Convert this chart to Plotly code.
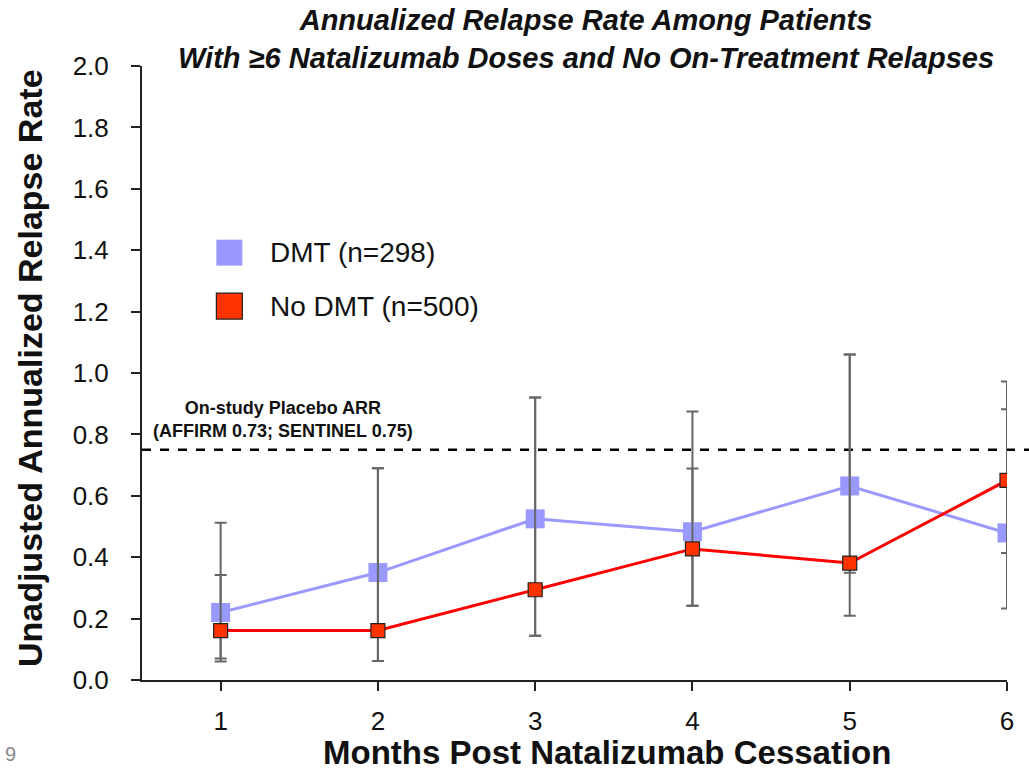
import plotly.graph_objects as go

months = [1, 2, 3, 4, 5, 6]
dmt_arr = [0.22, 0.35, 0.525, 0.483, 0.632, 0.479]
dmt_lo = [0.06, 0.062, 0.144, 0.242, 0.209, 0.233]
dmt_hi = [0.512, 0.69, 0.92, 0.875, 1.06, 0.882]
nodmt_arr = [0.161, 0.161, 0.294, 0.427, 0.381, 0.650]
nodmt_lo = [0.07, 0.062, 0.144, 0.242, 0.349, 0.414]
nodmt_hi = [0.342, 0.69, 0.92, 0.689, 1.06, 0.972]
placebo_arr = 0.75
y_ticks = [0.0, 0.2, 0.4, 0.6, 0.8, 1.0, 1.2, 1.4, 1.6, 1.8, 2.0]

DMT_COLOR = "#9999FF"
NODMT_LINE = "#FF0000"
NODMT_FILL = "#FF3300"
ERR_COLOR = "#666666"
FONT = "Liberation Sans, Arial"

fig = go.Figure()

fig.add_trace(go.Scatter(
    x=months, y=dmt_arr, mode="lines+markers", name="DMT (n=298)",
    line=dict(color=DMT_COLOR, width=3),
    marker=dict(symbol="square", size=19, color=DMT_COLOR),
    error_y=dict(type="data", symmetric=False,
                 array=[h - v for h, v in zip(dmt_hi, dmt_arr)],
                 arrayminus=[v - l for v, l in zip(dmt_arr, dmt_lo)],
                 color=ERR_COLOR, thickness=2, width=6),
    showlegend=False,
))
fig.add_trace(go.Scatter(
    x=months, y=nodmt_arr, mode="lines+markers", name="No DMT (n=500)",
    line=dict(color=NODMT_LINE, width=3),
    marker=dict(symbol="square", size=14, color=NODMT_FILL,
                line=dict(color="#222222", width=1.2)),
    error_y=dict(type="data", symmetric=False,
                 array=[h - v for h, v in zip(nodmt_hi, nodmt_arr)],
                 arrayminus=[v - l for v, l in zip(nodmt_arr, nodmt_lo)],
                 color=ERR_COLOR, thickness=2, width=6),
    showlegend=False,
))

# placebo reference line
fig.add_shape(type="line", xref="paper", yref="y", x0=0, x1=1.03,
              y0=placebo_arr, y1=placebo_arr,
              line=dict(color="black", width=2.5, dash="dash"), layer="below")

fig.add_annotation(
    x=0.163, xref="paper", y=placebo_arr, yref="y", yshift=7,
    text="<b>On-study Placebo ARR</b><br><b>(AFFIRM 0.73; SENTINEL 0.75)</b>",
    showarrow=False, xanchor="center", yanchor="bottom",
    font=dict(family=FONT, size=18, color="#111111"),
    align="center",
)

# manual legend
legend_items = [("DMT (n=298)", DMT_COLOR, None), ("No DMT (n=500)", NODMT_FILL, "#222222")]
leg_x = 0.101
leg_y0 = 0.696
leg_dy = 0.087
for i, (label, fill, border) in enumerate(legend_items):
    yy = leg_y0 - i * leg_dy
    fig.add_shape(type="rect", xref="paper", yref="paper",
                  xsizemode="pixel", ysizemode="pixel",
                  xanchor=leg_x, yanchor=yy, x0=-13, x1=13, y0=-13, y1=13,
                  fillcolor=fill,
                  line=dict(color=border if border else fill, width=1.2 if border else 0))
    fig.add_annotation(x=leg_x, xref="paper", xshift=39, y=yy, yref="paper",
                       text=label, showarrow=False, xanchor="left", yanchor="middle",
                       font=dict(family=FONT, size=28, color="#111111"))

# chart title
fig.add_annotation(
    x=0.513, xref="paper", y=1, yref="paper", yshift=-10,
    text="<b><i>Annualized Relapse Rate Among Patients<br>With \u22656 Natalizumab Doses and No On-Treatment Relapses</i></b>",
    showarrow=False, xanchor="center", yanchor="bottom", align="center",
    font=dict(family=FONT, size=29, color="#111111"),
)

# axis titles
fig.add_annotation(
    x=0.537, xref="paper", y=0, yref="paper", yshift=-72,
    text="<b>Months Post Natalizumab Cessation</b>",
    showarrow=False, xanchor="center", yanchor="middle",
    font=dict(family=FONT, size=33, color="#111111"),
)
fig.add_annotation(
    x=0, xref="paper", xshift=-112, y=0.508, yref="paper",
    text="<b>Unadjusted Annualized Relapse Rate</b>", textangle=-90,
    showarrow=False, xanchor="center", yanchor="middle",
    font=dict(family=FONT, size=34, color="#111111"),
)

# page number
fig.add_annotation(x=0, xref="paper", xshift=-139, y=0, yref="paper", yshift=-74,
                   text="9", showarrow=False, xanchor="left", yanchor="middle",
                   font=dict(family=FONT, size=20, color="#888888"))

fig.update_layout(
    width=1029, height=771,
    margin=dict(l=142, r=22, t=66, b=91),
    paper_bgcolor="white", plot_bgcolor="white",
    font=dict(family=FONT, color="#111111"),
)

fig.update_xaxes(
    range=[0.5, 6.0], tickvals=months, ticktext=[str(m) for m in months],
    showline=True, linecolor="#222222", linewidth=2,
    ticks="outside", ticklen=9, tickwidth=2, tickcolor="#222222",
    showgrid=False, zeroline=False, ticklabelstandoff=8,
    tickfont=dict(size=26, family=FONT),
)
fig.update_yaxes(
    range=[0, 2.0], tickvals=y_ticks, ticktext=[f"{v:.1f}" for v in y_ticks],
    showline=True, linecolor="#222222", linewidth=2,
    ticks="outside", ticklen=9, tickwidth=2, tickcolor="#222222",
    showgrid=False, zeroline=False, ticklabelstandoff=17,
    tickfont=dict(size=26, family=FONT),
)

fig.write_html("out.html")
